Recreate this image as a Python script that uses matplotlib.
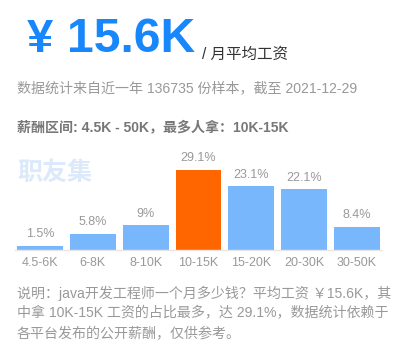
import matplotlib
matplotlib.use("Agg")
import matplotlib.pyplot as plt

categories = ["4.5-6K", "6-8K", "8-10K", "10-15K", "15-20K", "20-30K", "30-50K"]
values = [1.5, 5.8, 9, 29.1, 23.1, 22.1, 8.4]
value_labels = ["1.5%", "5.8%", "9%", "29.1%", "23.1%", "22.1%", "8.4%"]
highlight = "10-15K"

W, H = 401, 351
DPI = 100
FONT = ["Liberation Sans", "Noto Sans CJK SC", "DejaVu Sans"]
plt.rcParams["font.family"] = FONT

fig = plt.figure(figsize=(W / DPI, H / DPI), dpi=DPI)
fig.patch.set_facecolor("white")

def px(x, y):
    return x / W, 1 - y / H

def ptsz(pxsize):
    return pxsize * 72 / DPI

# Header
fig.text(*px(27, 40), "¥", color="#1787fb", fontsize=ptsz(47), fontweight="bold", va="center", ha="left")
fig.text(*px(67, 40), "15.6K", color="#1787fb", fontsize=ptsz(48), fontweight="bold", va="center", ha="left")
fig.text(*px(202, 54), "/ 月平均工资", color="#333333", fontsize=ptsz(15.5), va="center", ha="left")
fig.text(*px(17, 88), "数据统计来自近一年 136735 份样本，截至 2021-12-29", color="#999999",
         fontsize=ptsz(14), va="center", ha="left")
fig.text(*px(17, 128), "薪酬区间: 4.5K - 50K，最多人拿：10K-15K", color="#777777",
         fontsize=ptsz(14), fontweight="bold", va="center", ha="left")

# Watermark
fig.text(*px(17, 173), "职友集", color="#dbe9fb", fontsize=ptsz(25), fontweight="bold",
         va="center", ha="left")

# Bar chart
ax_left, ax_right, ax_top, ax_bottom = 15, 382, 150, 250
ax = fig.add_axes([ax_left / W, 1 - ax_bottom / H, (ax_right - ax_left) / W, (ax_bottom - ax_top) / H])
ax.set_facecolor("none")
x = list(range(len(categories)))
colors = ["#ff6600" if c == highlight else "#79b7fd" for c in categories]
bars = ax.bar(x, values, width=0.87, color=colors, zorder=2)
ax.set_xlim(-0.473, len(categories) - 1 + 0.473)
ax.set_ylim(0, 29.1 * (ax_bottom - ax_top) / 80)
for b, lab in zip(bars, value_labels):
    ax.annotate(lab, (b.get_x() + b.get_width() / 2, b.get_height()), xytext=(0, 4),
                textcoords="offset points", ha="center", va="bottom",
                color="#999999", fontsize=ptsz(12.5))
ax.set_xticks(x)
ax.set_xticklabels(categories, color="#999999", fontsize=ptsz(12.5))
ax.tick_params(axis="x", length=0, pad=5)
ax.set_yticks([])
for s in ["top", "right", "left"]:
    ax.spines[s].set_visible(False)
ax.spines["bottom"].set_color("#e6e6e6")
ax.spines["bottom"].set_linewidth(1)

# Footer
footer = ["说明：java开发工程师一个月多少钱？平均工资 ￥15.6K，其",
          "中拿 10K-15K 工资的占比最多，达 29.1%，数据统计依赖于",
          "各平台发布的公开薪酬，仅供参考。"]
for i, line in enumerate(footer):
    fig.text(*px(17, 293 + 20.5 * i), line, color="#999999", fontsize=ptsz(14), va="center", ha="left")

fig.savefig("out.png", dpi=DPI, facecolor="white")
